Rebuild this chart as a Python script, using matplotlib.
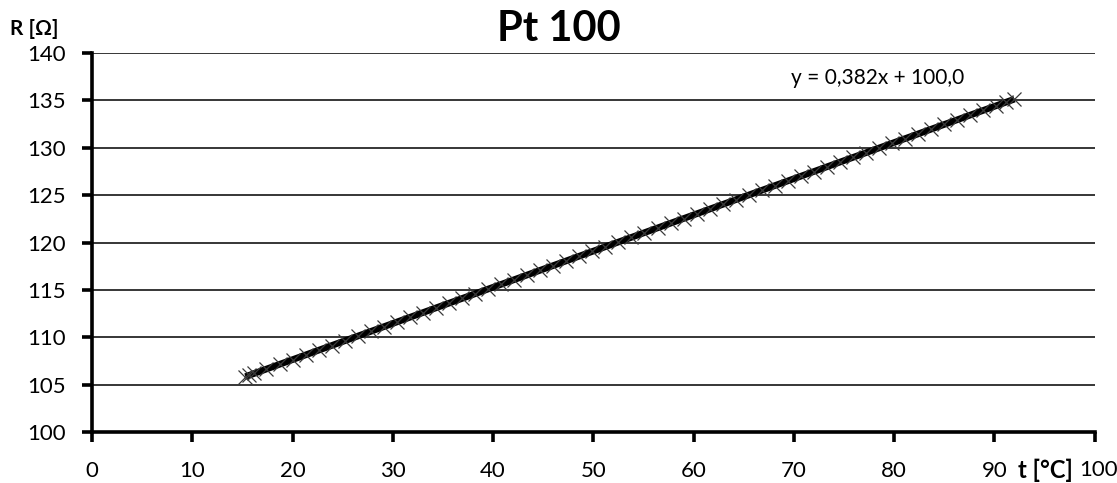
#!/usr/bin/env python3
"""Pt 100 calibration: resistance vs temperature with linear trend."""

import matplotlib
import numpy as np

matplotlib.use("Agg")
from matplotlib import pyplot as plt

# measured points
temperature = [
    15.3, 15.7, 16.2, 17.4, 18.7, 20.0, 21.3, 22.6, 23.9, 25.2, 26.5, 27.8,
    29.1, 30.4, 31.7, 33.0, 34.3, 35.6, 36.9, 38.2, 39.5, 40.8, 42.1, 43.4,
    44.7, 46.0, 47.3, 48.6, 49.9, 51.2, 52.5, 53.8, 55.1, 56.4, 57.7, 59.0,
    60.3, 61.6, 62.9, 64.2, 65.5, 66.8, 68.1, 69.4, 70.7, 72.0, 73.3, 74.6,
    75.9, 77.2, 78.5, 79.8, 81.1, 82.4, 83.7, 85.0, 86.3, 87.6, 88.9, 90.2,
    91.2, 92.0,
]
resistance = [
    105.85, 106.00, 106.19, 106.65, 107.14, 107.64, 108.14, 108.63, 109.13,
    109.63, 110.12, 110.62, 111.12, 111.61, 112.11, 112.61, 113.10, 113.60,
    114.10, 114.59, 115.09, 115.59, 116.08, 116.58, 117.08, 117.57, 118.07,
    118.57, 119.06, 119.56, 120.06, 120.55, 121.05, 121.54, 122.04, 122.54,
    123.03, 123.53, 124.03, 124.52, 125.02, 125.52, 126.01, 126.51, 127.01,
    127.50, 128.00, 128.50, 128.99, 129.49, 129.99, 130.48, 130.98, 131.48,
    131.97, 132.47, 132.97, 133.46, 133.96, 134.46, 134.84, 135.14,
]
x_ticks = [0, 10, 20, 30, 40, 50, 60, 70, 80, 90, 100]
y_ticks = [100, 105, 110, 115, 120, 125, 130, 135, 140]

plt.rcParams["font.family"] = ["Lato", "DejaVu Sans"]

fig = plt.figure(figsize=(11.17, 4.83), dpi=100)
ax = fig.add_axes([0.0824, 0.1056, 0.8976, 0.7844])

t = np.array(temperature)
r = np.array(resistance)
slope, intercept = np.polyfit(t, r, 1)
trend_x = np.array([t.min(), t.max()])
ax.plot(trend_x, slope * trend_x + intercept, color="black", linewidth=4.8,
        solid_capstyle="butt", zorder=3)
ax.plot(t, r, linestyle="none", marker="x", markersize=10, markeredgewidth=0.9,
        color="#3a3a3a", zorder=4)

ax.set_xlim(0, 100)
ax.set_ylim(100, 140)
ax.set_xticks(x_ticks)
ax.set_yticks(y_ticks)
ax.set_xticklabels(["" if v == 100 else str(v) for v in x_ticks])
ax.yaxis.grid(True, color="black", linewidth=1.1)
ax.set_axisbelow(True)
for side in ["top", "right"]:
    ax.spines[side].set_visible(False)
for side in ["left", "bottom"]:
    ax.spines[side].set_linewidth(2.6)
ax.tick_params(axis="both", direction="out", length=7, width=2.6, labelsize=16)
ax.tick_params(axis="y", pad=12)
ax.tick_params(axis="x", pad=14)

fig.text(0.5, 1 - 29 / 483, "Pt 100", ha="center", va="center",
         fontsize=30, fontweight="bold")
fig.text(10 / 1117, 1 - 29 / 483, "R [Ω]", ha="left", va="center",
         fontsize=15, fontweight="bold")
fig.text(1045 / 1117, 1 - 470 / 483, "t [°C]", ha="center", va="center",
         fontsize=17, fontweight="bold")
fig.text(1099 / 1117, 1 - 470 / 483, "100", ha="center", va="center",
         fontsize=16)
ax.text(0.697, 0.935, f"y = {slope:.3f}x + {intercept:.1f}".replace(".", ","),
        transform=ax.transAxes, ha="left", va="center", fontsize=15)

fig.savefig("out.png", dpi=100)
